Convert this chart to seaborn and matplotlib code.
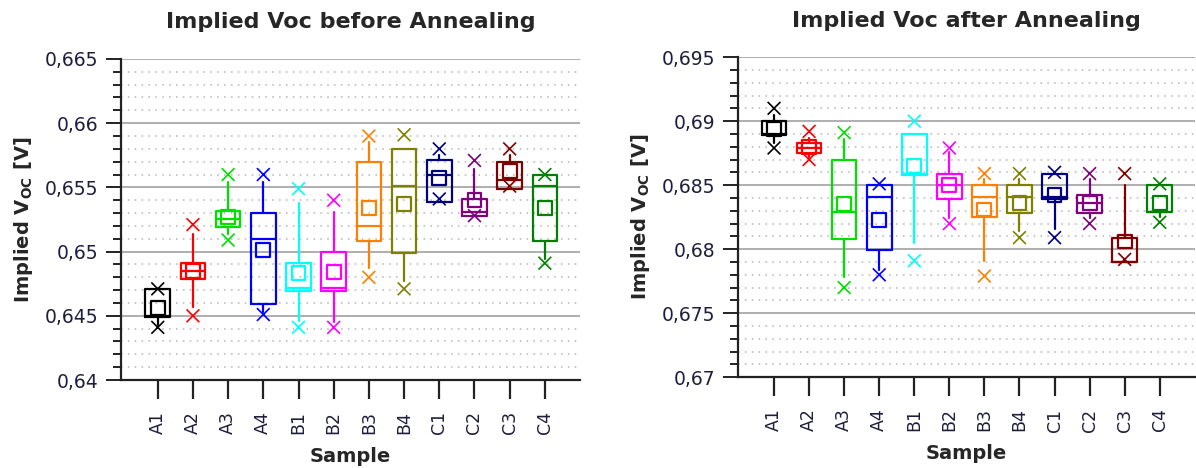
import matplotlib
matplotlib.use("Agg")
import matplotlib.pyplot as plt
from matplotlib.ticker import MultipleLocator, FuncFormatter
import pandas as pd
import seaborn as sns

samples = ['A1', 'A2', 'A3', 'A4', 'B1', 'B2', 'B3', 'B4', 'C1', 'C2', 'C3', 'C4']
colors = ['#000000', '#ff0000', '#00e000', '#0000ff', '#00ffff', '#ff00ff',
          '#ff8000', '#808000', '#000080', '#800080', '#800000', '#008000']

# before annealing
before_max = [0.6471, 0.6521, 0.6560, 0.6560, 0.6549, 0.6540, 0.6590, 0.6591, 0.6580, 0.6571, 0.6580, 0.6560]
before_whi = [0.6471, 0.6514, 0.6554, 0.6554, 0.6538, 0.6531, 0.6585, 0.6580, 0.6575, 0.6564, 0.6575, 0.6560]
before_q3 = [0.6471, 0.6491, 0.6532, 0.6530, 0.6491, 0.6500, 0.6570, 0.6580, 0.6571, 0.6541, 0.6570, 0.6560]
before_med = [0.6450, 0.6485, 0.6525, 0.6510, 0.6472, 0.6472, 0.6520, 0.6551, 0.6560, 0.6531, 0.6556, 0.6551]
before_mean = [0.6456, 0.6485, 0.6527, 0.6501, 0.6483, 0.6484, 0.6534, 0.6537, 0.6557, 0.6540, 0.6563, 0.6534]
before_q1 = [0.6449, 0.6479, 0.6519, 0.6459, 0.6469, 0.6469, 0.6508, 0.6499, 0.6539, 0.6528, 0.6549, 0.6508]
before_wlo = [0.6443, 0.6457, 0.6514, 0.6453, 0.6446, 0.6445, 0.6487, 0.6477, 0.6539, 0.6528, 0.6549, 0.6494]
before_min = [0.6441, 0.6450, 0.6509, 0.6451, 0.6441, 0.6441, 0.6480, 0.6471, 0.6541, 0.6528, 0.6551, 0.6491]

# after annealing
after_max = [0.6910, 0.6892, 0.6891, 0.6851, 0.6900, 0.6879, 0.6859, 0.6859, 0.6860, 0.6859, 0.6859, 0.6851]
after_whi = [0.6905, 0.6887, 0.6886, 0.6850, 0.6890, 0.6876, 0.6855, 0.6855, 0.6859, 0.6855, 0.6850, 0.6850]
after_q3 = [0.6900, 0.6883, 0.6870, 0.6850, 0.6890, 0.6859, 0.6850, 0.6850, 0.6859, 0.6842, 0.6809, 0.6850]
after_med = [0.6890, 0.6879, 0.6829, 0.6841, 0.6859, 0.6850, 0.6841, 0.6841, 0.6841, 0.6836, 0.6790, 0.6829]
after_mean = [0.6894, 0.6880, 0.6835, 0.6823, 0.6865, 0.6850, 0.6831, 0.6836, 0.6842, 0.6836, 0.6806, 0.6836]
after_q1 = [0.6889, 0.6875, 0.6808, 0.6799, 0.6858, 0.6839, 0.6825, 0.6828, 0.6839, 0.6828, 0.6790, 0.6829]
after_wlo = [0.6883, 0.6872, 0.6778, 0.6784, 0.6805, 0.6824, 0.6791, 0.6814, 0.6816, 0.6824, 0.6790, 0.6825]
after_min = [0.6879, 0.6870, 0.6770, 0.6780, 0.6791, 0.6820, 0.6779, 0.6809, 0.6809, 0.6820, 0.6792, 0.6821]

sns.set_style("white")
plt.rcParams['font.family'] = ['DejaVu Sans']

fig = plt.figure(figsize=(11.96, 4.68), dpi=100)
ax1 = fig.add_axes([0.101, 0.188, 0.384, 0.686])
ax2 = fig.add_axes([0.617, 0.194, 0.382, 0.684])

comma = FuncFormatter(lambda v, p: ('%.3f' % round(v, 3)).rstrip('0').replace('.', ','))
lw = 1.6


def draw(ax, vmax, whi, q3, med, mean, q1, wlo, vmin, ylim, title):
    stats = []
    for i in range(len(samples)):
        stats.append(dict(med=med[i], q1=q1[i], q3=q3[i], whislo=wlo[i], whishi=whi[i],
                          mean=mean[i], fliers=[], label=samples[i]))
    art = ax.bxp(stats, positions=range(len(samples)), widths=0.7, showmeans=False,
                 showcaps=False, manage_ticks=False)
    for i, c in enumerate(colors):
        art['boxes'][i].set(color=c, linewidth=lw)
        art['medians'][i].set(color=c, linewidth=lw)
        art['whiskers'][2 * i].set(color=c, linewidth=lw)
        art['whiskers'][2 * i + 1].set(color=c, linewidth=lw)

    df = pd.DataFrame({'Sample': samples, 'mean': mean, 'max': vmax, 'min': vmin})
    sns.scatterplot(data=df, x='Sample', y='mean', hue='Sample', palette=colors,
                    marker='s', s=100, linewidth=lw, legend=False, ax=ax, zorder=5)
    pts = ax.collections[-1]
    pts.set_edgecolors(pts.get_facecolors())
    pts.set_facecolors('none')
    for col in ['max', 'min']:
        sns.scatterplot(data=df, x='Sample', y=col, hue='Sample', palette=colors,
                        marker='x', s=85, linewidth=1.2, legend=False, ax=ax, zorder=5)

    ax.set_xlim(-1.05, 12.0)
    ax.set_ylim(*ylim)
    ax.yaxis.set_major_locator(MultipleLocator(0.005))
    ax.yaxis.set_minor_locator(MultipleLocator(0.001))
    ax.yaxis.set_major_formatter(comma)
    ax.set_xticks(range(len(samples)))
    ax.set_xticklabels(samples, rotation=90)
    ax.grid(True, which='major', axis='y', color='#a8a8a8', linewidth=1.3, linestyle='-')
    ax.grid(True, which='minor', axis='y', color='#b4b4b4', linewidth=1.1, linestyle=(0, (1, 3.5)))
    ax.set_axisbelow(True)
    for s in ['top', 'right']:
        ax.spines[s].set_visible(False)
    for s in ['left', 'bottom']:
        ax.spines[s].set_color('#222222')
        ax.spines[s].set_linewidth(1.6)
    ax.tick_params(axis='y', which='major', left=True, length=11, width=1.4, color='#222222',
                   labelsize=13.5, labelcolor='#1e1e3c', pad=5)
    ax.tick_params(axis='y', which='minor', left=True, length=6, width=1.4, color='#222222')
    ax.tick_params(axis='x', which='major', bottom=True, length=13.5, width=1.6, color='#222222',
                   labelsize=12.5, labelcolor='#1e1e3c', pad=9)
    ax.set_xlabel('Sample', fontsize=14, fontweight='bold', labelpad=9)
    ax.set_ylabel(r'Implied V$_{\mathbf{OC}}$ [V]', fontsize=14, fontweight='bold', labelpad=7)
    ax.set_title(title, fontsize=16, fontweight='heavy', pad=22)


draw(ax1, before_max, before_whi, before_q3, before_med, before_mean, before_q1, before_wlo,
     before_min, (0.64, 0.665), 'Implied Voc before Annealing')
draw(ax2, after_max, after_whi, after_q3, after_med, after_mean, after_q1, after_wlo,
     after_min, (0.67, 0.695), 'Implied Voc after Annealing')
ax2.set_xlim(-1.03, 12.0)

fig.savefig('out.png', dpi=100)
